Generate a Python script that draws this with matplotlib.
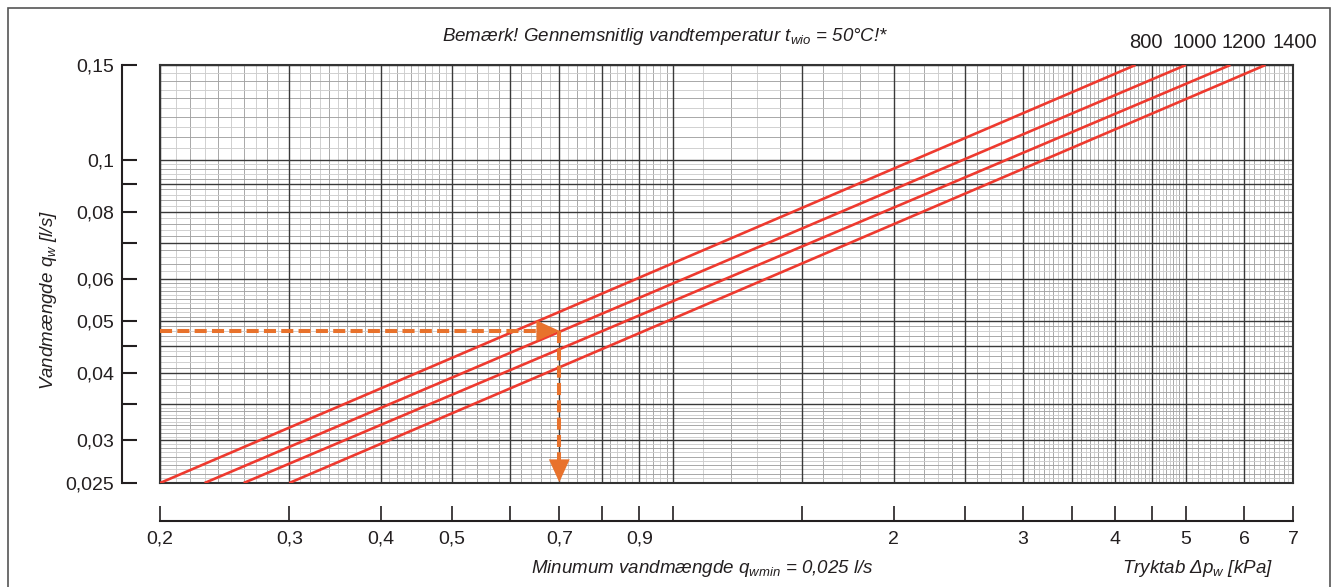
import numpy as np
import matplotlib.pyplot as plt
from matplotlib.ticker import FixedLocator, FixedFormatter, NullLocator
from matplotlib.patches import Rectangle

plt.rcParams['font.family'] = ['Liberation Sans', 'DejaVu Sans']
plt.rcParams['mathtext.fontset'] = 'custom'
plt.rcParams['mathtext.it'] = 'Liberation Sans:italic'
plt.rcParams['mathtext.rm'] = 'Liberation Sans'

# pressure drop [kPa] at min and max flow for each curve
curve_labels = ['800', '1000', '1200', '1400']
dp_at_qmin = [0.20, 0.23, 0.26, 0.30]
dp_at_qmax = [4.27, 5.00, 5.75, 6.42]
q_range = [0.025, 0.15]

# worked example
example_dp = 0.7
example_q = 0.048

x_ticks = [0.2, 0.3, 0.4, 0.5, 0.6, 0.7, 0.8, 0.9, 1.0, 1.5, 2, 2.5, 3, 3.5, 4, 4.5, 5, 6, 7]
x_ticklabels = ['0,2', '0,3', '0,4', '0,5', '', '0,7', '', '0,9', '', '', '2', '', '3', '', '4', '', '5', '6', '7']
y_ticks = [0.025, 0.03, 0.035, 0.04, 0.045, 0.05, 0.06, 0.07, 0.08, 0.09, 0.1, 0.15]
y_ticklabels = ['0,025', '0,03', '', '0,04', '', '0,05', '0,06', '', '0,08', '', '0,1', '0,15']

# fine grid of the log paper: (from, to, step)
x_fine = [(0.2, 0.5, 0.01), (0.5, 1.0, 0.02), (1.0, 3.0, 0.1), (3.0, 5.0, 0.05), (5.0, 7.0, 0.1)]
y_fine = [(0.025, 0.035, 0.0005), (0.035, 0.06, 0.001), (0.06, 0.1, 0.002), (0.1, 0.15, 0.005)]

RED = '#ee3a2f'
ORANGE = '#e8722c'
INK = '#231f20'


def fine_lines(segments):
    for lo, hi, step in segments:
        n = int(round((hi - lo) / step))
        for k in range(1, n):
            yield lo + k * step, k % 2 == 0


fig = plt.figure(figsize=(13.35, 5.87), dpi=100)
ax = fig.add_axes([0.1199, 0.1772, 0.8487, 0.7121])
ax.set_xscale('log')
ax.set_yscale('log')
ax.set_xlim(0.2, 7)
ax.set_ylim(0.025, 0.15)
ax.tick_params(which='both', bottom=False, left=False, top=False, right=False,
               labelbottom=False, labelleft=False)
for s in ax.spines.values():
    s.set_color('#333333')
    s.set_linewidth(1.5)

# grid
for v, even in fine_lines(x_fine):
    if min(abs(v - t) for t in x_ticks) > 1e-6:
        ax.axvline(v, color='#a2a2a2' if even else '#cdcdcd', lw=0.65, zorder=1)
for v, even in fine_lines(y_fine):
    if min(abs(v - t) for t in y_ticks) > 1e-7:
        ax.axhline(v, color='#a2a2a2' if even else '#cdcdcd', lw=0.65, zorder=1)
for v in x_ticks:
    ax.axvline(v, color='#3a3a3a', lw=1.0, zorder=2)
for v in y_ticks:
    ax.axhline(v, color='#3a3a3a', lw=1.0, zorder=2)

# curves
offsets = [(10, 22), (9, 22), (13, 22), (29, 22)]
for lab, lo, hi, off in zip(curve_labels, dp_at_qmin, dp_at_qmax, offsets):
    ax.plot([lo, hi], q_range, color=RED, lw=1.9, zorder=4, solid_capstyle='butt')
    ax.annotate(lab, xy=(hi, q_range[1]), xytext=off, textcoords='offset pixels',
                ha='center', va='center', fontsize=14.5, color=INK, annotation_clip=False)

# example reading
ax.plot([0.2, example_dp * 0.96], [example_q, example_q], color=ORANGE, lw=2.9,
        dashes=(3.0, 1.3), zorder=5)
ax.plot([example_dp, example_dp], [example_q, q_range[0] * 1.05], color=ORANGE, lw=2.9,
        dashes=(3.0, 1.3), zorder=5)
head = dict(arrowstyle='-|>,head_length=1.1,head_width=0.5', color=ORANGE, lw=0,
            shrinkA=0, shrinkB=0, mutation_scale=15)
ax.annotate('', xy=(example_dp, example_q), xytext=(example_dp * 0.95, example_q),
            arrowprops=head, annotation_clip=False, zorder=6)
ax.annotate('', xy=(example_dp, q_range[0] * 1.003), xytext=(example_dp, q_range[0] * 1.08),
            arrowprops=head, annotation_clip=False, zorder=6)

# detached axes
ay = ax.secondary_yaxis(-0.0335)
ay.yaxis.set_major_locator(FixedLocator(y_ticks))
ay.yaxis.set_major_formatter(FixedFormatter(y_ticklabels))
ay.yaxis.set_minor_locator(NullLocator())
ay.tick_params(direction='in', length=10.8, width=1.5, labelsize=14, pad=6,
               colors=INK)
ay.spines['left'].set_linewidth(1.5)
ay.spines['left'].set_color(INK)

axx = ax.secondary_xaxis(-0.091)
axx.xaxis.set_major_locator(FixedLocator(x_ticks))
axx.xaxis.set_major_formatter(FixedFormatter(x_ticklabels))
axx.xaxis.set_minor_locator(NullLocator())
axx.tick_params(direction='in', length=10.8, width=1.2, labelsize=14, pad=7,
                colors=INK)
axx.spines['bottom'].set_linewidth(1.5)
axx.spines['bottom'].set_color(INK)

# texts
fig.text(0.498, 0.938, 'Bemærk! Gennemsnitlig vandtemperatur $t_{wio}$ = 50°C!*',
         ha='center', va='center', style='italic', fontsize=13.5, color=INK)
fig.text(0.036, 0.489, 'Vandmængde $q_w$ [l/s]', rotation=90, ha='center', va='center',
         style='italic', fontsize=13.5, color=INK)
fig.text(0.526, 0.031, 'Minumum vandmængde $q_{wmin}$ = 0,025 l/s', ha='center',
         va='center', style='italic', fontsize=13.5, color=INK)
fig.text(0.897, 0.031, 'Tryktab Δ$p_w$ [kPa]', ha='center', va='center',
         style='italic', fontsize=13.5, color=INK)

fig.add_artist(Rectangle((8 / 1335, -0.01), 1322 / 1335, 0.9964, transform=fig.transFigure,
                         fill=False, ec='#555555', lw=1.2))

fig.savefig('out.png', dpi=100)
